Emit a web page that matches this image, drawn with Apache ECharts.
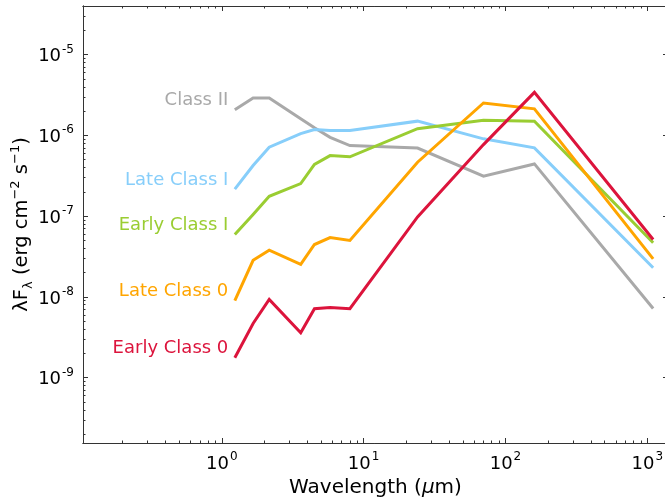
<!DOCTYPE html>
<html>
<head>
<meta charset="utf-8">
<script src="https://cdn.jsdelivr.net/npm/echarts@6/dist/echarts.min.js"></script>
<style>
  html, body { margin: 0; padding: 0; background: #fff; }
  #chart { width: 665px; height: 498px; }
</style>
</head>
<body>
<div id="chart"></div>
<script>
// Photometric bands (micron): 2MASS J/H/Ks, IRAC, MIPS, 1.1 mm
const wavelengths = [1.235, 1.662, 2.159, 3.6, 4.5, 5.8, 8.0, 24, 70, 160, 1100];

// Median SEDs, lambda*F_lambda in erg cm^-2 s^-1
const classII      = [2.08e-6, 2.91e-6, 2.91e-6, 1.61e-6, 1.24e-6, 9.46e-7, 7.48e-7, 6.97e-7, 3.12e-7, 4.43e-7, 7.18e-9];
const lateClassI   = [2.16e-7, 4.23e-7, 7.13e-7, 1.05e-6, 1.18e-6, 1.15e-6, 1.15e-6, 1.50e-6, 9.06e-7, 7.00e-7, 2.29e-8];
const earlyClassI  = [5.92e-8, 1.05e-7, 1.76e-7, 2.53e-7, 4.38e-7, 5.62e-7, 5.42e-7, 1.21e-6, 1.54e-6, 1.50e-6, 4.68e-8];
const lateClass0   = [9.0e-9, 2.84e-8, 3.78e-8, 2.52e-8, 4.45e-8, 5.43e-8, 4.99e-8, 4.65e-7, 2.52e-6, 2.13e-6, 2.96e-8];
const earlyClass0  = [1.76e-9, 4.69e-9, 9.29e-9, 3.60e-9, 7.13e-9, 7.40e-9, 7.13e-9, 9.77e-8, 7.69e-7, 3.41e-6, 5.13e-8];

const seriesNames  = ['Class II', 'Late Class I', 'Early Class I', 'Late Class 0', 'Early Class 0'];
const seriesValues = [classII, lateClassI, earlyClassI, lateClass0, earlyClass0];
const seriesColors = ['#A9A9A9', '#87CEFA', '#9ACD32', '#FFA500', '#DC143C'];

// Axis ranges and tick positions
const xRange = [0.105, 1400];
const yRange = [1.55e-10, 4e-5];
const xMajorTicks = [1, 10, 100, 1000];
const yMajorTicks = [1e-9, 1e-8, 1e-7, 1e-6, 1e-5];

function minorTicks(range) {
  const out = [];
  const lo = Math.floor(Math.log10(range[0]));
  const hi = Math.ceil(Math.log10(range[1]));
  for (let e = lo; e <= hi; e++) {
    for (let m = 2; m <= 9; m++) {
      const v = m * Math.pow(10, e);
      if (v > range[0] && v < range[1]) out.push(v);
    }
  }
  return out;
}

const FONT = 'DejaVu Sans';
const SPINE = '#333';

function powLabel(v) {
  const e = Math.round(Math.log10(v));
  return '{b|10}{s|' + e + '}';
}
const powRich = {
  b: { fontFamily: FONT, fontSize: 18, color: '#000', lineHeight: 22, verticalAlign: 'bottom' },
  s: { fontFamily: FONT, fontSize: 12, color: '#000', lineHeight: 22, verticalAlign: 'top', padding: [0, 0, 0, 1] }
};

function makeAxis(kind, position, range, ticks, len, withLabels) {
  const ax = {
    type: 'log',
    logBase: 10,
    position: position,
    min: range[0],
    max: range[1],
    axisLine: { show: true, lineStyle: { color: SPINE, width: 1 } },
    axisTick: { show: true, inside: true, length: len, customValues: ticks,
                lineStyle: { color: SPINE, width: 1 } },
    axisLabel: { show: false },
    splitLine: { show: false },
    minorTick: { show: false },
    minorSplitLine: { show: false }
  };
  if (withLabels) {
    ax.axisLabel = {
      show: true,
      customValues: ticks,
      margin: kind === 'x' ? 8 : 9,
      formatter: powLabel,
      rich: powRich
    };
  }
  return ax;
}

const xMinor = minorTicks(xRange);
const yMinor = minorTicks(yRange);

const xAxes = [
  makeAxis('x', 'bottom', xRange, xMajorTicks, 5, true),
  makeAxis('x', 'bottom', xRange, xMinor, 2.5, false),
  makeAxis('x', 'top', xRange, xMajorTicks, 5, false),
  makeAxis('x', 'top', xRange, xMinor, 2.5, false)
];
xAxes[0].name = '{n|Wavelength (}{i|\u03bc}{n|m)}';
xAxes[0].nameLocation = 'middle';
xAxes[0].nameGap = 31;
xAxes[0].nameTextStyle = {
  rich: {
    n: { fontFamily: FONT, fontSize: 20, color: '#000' },
    i: { fontFamily: FONT, fontSize: 20, color: '#000', fontStyle: 'italic' }
  }
};

const yAxes = [
  makeAxis('y', 'left', yRange, yMajorTicks, 5, true),
  makeAxis('y', 'left', yRange, yMinor, 2.5, false),
  makeAxis('y', 'right', yRange, yMajorTicks, 5, false),
  makeAxis('y', 'right', yRange, yMinor, 2.5, false)
];
yAxes[0].name = '{n|\u03bbF}{sub|\u03bb}{n| (erg cm}{sup|\u22122}{n| s}{sup|\u22121}{n|)}';
yAxes[0].nameLocation = 'middle';
yAxes[0].nameRotate = 90;
yAxes[0].nameGap = 48;
yAxes[0].nameMoveOverlap = false;
yAxes[0].nameTextStyle = {
  rich: {
    n: { fontFamily: FONT, fontSize: 19.5, color: '#000', lineHeight: 26, verticalAlign: 'middle' },
    sub: { fontFamily: FONT, fontSize: 13, color: '#000', lineHeight: 26, verticalAlign: 'bottom' },
    sup: { fontFamily: FONT, fontSize: 13, color: '#000', lineHeight: 26, verticalAlign: 'top' }
  }
};

const series = seriesNames.map((name, k) => ({
  name: name,
  type: 'line',
  xAxisIndex: 0,
  yAxisIndex: 0,
  symbol: 'circle',
  symbolSize: 1,
  showSymbol: true,
  itemStyle: { color: 'rgba(0,0,0,0)' },
  lineStyle: { color: seriesColors[k], width: 3, cap: 'butt', join: 'miter' },
  emphasis: { disabled: true },
  silent: true,
  animation: false,
  data: wavelengths.map((w, i) => {
    const item = { value: [w, seriesValues[k][i]] };
    if (i === 0) {
      item.label = {
        show: true,
        position: 'left',
        distance: 6,
        offset: [0, -9],
        formatter: name,
        fontFamily: FONT,
        fontSize: 18,
        color: seriesColors[k]
      };
    }
    return item;
  })
}));

const chart = echarts.init(document.getElementById('chart'), null, { renderer: 'canvas' });
chart.setOption({
  animation: false,
  backgroundColor: '#fff',
  grid: { left: 83, right: -3, top: 6, bottom: 55, containLabel: false, outerBoundsMode: 'none' },
  xAxis: xAxes,
  yAxis: yAxes,
  series: series
});
</script>
</body>
</html>
